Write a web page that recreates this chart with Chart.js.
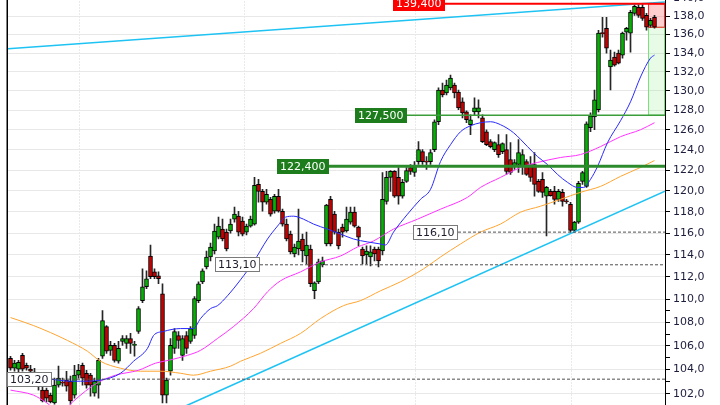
<!DOCTYPE html>
<html><head><meta charset="utf-8">
<script src="https://cdn.jsdelivr.net/npm/chart.js@4.4.1/dist/chart.umd.min.js"></script>
<style>
html,body{margin:0;padding:0;width:720px;height:405px;overflow:hidden;background:#fff;}
#wrap{position:absolute;left:0;top:0;width:720px;height:405px;overflow:hidden;background:#fff;}
#c{position:absolute;left:0;top:0;}
</style></head>
<body><div id="wrap"><canvas id="c" width="720" height="460"></canvas></div>
<script>
// ---- OHLC data (one candle per session) ----
const opens = [104.94,104.11,104.03,105.19,104.36,104.03,103.78,103.28,102.30,102.30,101.89,101.25,102.71,102.95,103.12,103.03,101.89,103.53,104.36,103.69,
103.53,102.05,102.71,105.11,107.64,105.61,106.03,104.69,106.37,106.20,106.62,106.03,107.22,109.90,111.13,113.90,112.46,112.11,110.51,101.89,
103.86,105.78,106.87,105.19,106.87,106.37,106.87,109.90,111.57,112.91,113.81,114.36,115.64,116.38,116.10,116.20,117.31,117.59,117.12,116.10,
116.66,116.85,120.62,119.95,118.91,119.19,118.06,119.48,118.06,116.85,115.92,114.09,114.54,115.46,113.90,114.54,110.77,111.57,113.09,115.00,
119.19,117.78,116.10,116.57,116.20,117.03,117.97,116.57,114.54,114.00,113.81,114.54,114.54,114.36,119.00,121.30,121.88,121.30,119.48,120.91,
122.27,121.78,122.85,123.83,122.85,122.85,124.03,126.83,130.10,129.79,130.31,130.62,129.89,128.87,127.84,126.53,127.84,127.84,127.23,125.82,
124.82,124.03,124.52,123.83,124.03,123.05,122.36,122.56,122.36,122.85,122.56,122.56,120.91,121.11,119.48,119.95,119.95,119.19,119.86,119.00,
118.72,116.25,117.03,120.91,120.43,126.22,127.33,128.05,136.15,136.69,132.51,133.57,133.99,133.78,136.26,136.15,138.33,138.99,138.99,138.11,
137.01,137.89];
const highs = [105.11,104.77,104.77,105.36,104.53,104.36,104.11,103.53,102.54,102.46,102.05,103.28,104.28,103.28,103.86,103.45,104.36,104.44,104.53,103.94,
103.69,103.28,104.94,109.03,107.73,106.37,106.20,106.37,106.87,106.87,107.05,106.37,109.37,112.73,112.55,114.91,112.73,112.46,111.40,103.28,
106.62,107.47,107.22,106.87,107.22,107.64,110.25,111.57,112.73,114.36,115.09,116.85,117.50,117.31,116.38,117.31,118.44,118.06,117.50,116.85,
117.59,121.30,121.11,120.14,120.14,119.38,119.67,120.14,118.25,117.31,116.20,115.00,118.25,115.92,116.10,114.91,111.57,113.63,113.81,118.72,
119.48,118.06,116.38,116.85,118.44,118.44,118.44,116.66,114.72,114.82,114.82,114.72,114.72,121.78,121.88,121.97,121.97,122.27,121.11,122.27,
122.56,122.85,124.82,124.03,123.34,124.03,127.03,130.31,130.83,131.14,131.67,130.83,130.10,129.27,127.94,127.54,129.27,129.07,127.54,126.02,
125.02,124.80,125.52,124.70,125.52,124.72,123.05,125.02,124.03,123.05,123.34,123.74,121.11,121.78,120.43,120.14,120.43,120.14,120.14,119.19,
118.91,117.10,120.91,121.88,126.83,127.74,130.10,136.47,137.89,137.89,134.31,134.10,134.31,136.26,136.80,138.66,139.40,139.40,139.35,138.33,
137.78,138.11];
const lows = [103.94,103.86,103.78,103.86,103.94,103.53,103.03,102.30,101.33,101.33,101.25,101.16,102.54,102.62,102.22,101.16,101.65,103.28,102.71,102.46,
101.81,101.81,101.65,104.94,105.36,105.19,104.61,104.53,106.03,105.78,105.36,105.11,107.05,109.72,110.95,111.84,111.84,111.40,101.25,101.25,
103.53,105.36,105.78,104.77,105.36,106.20,106.62,109.72,111.40,112.73,113.45,114.09,115.46,115.28,114.36,116.01,117.03,115.74,115.74,115.83,
116.57,116.75,118.91,118.06,118.72,117.59,117.87,117.97,116.66,115.28,114.09,113.81,114.00,113.36,113.18,111.13,110.07,111.40,112.91,114.82,
114.82,115.92,114.54,115.64,116.10,116.85,116.57,114.82,113.18,113.18,113.00,113.45,112.91,114.00,118.72,119.95,119.38,118.72,119.29,120.82,
121.59,121.40,122.56,122.56,122.07,122.56,123.83,126.53,129.38,129.58,130.10,129.27,128.05,127.23,126.73,125.52,127.54,127.23,124.72,124.42,
124.20,123.83,123.25,123.64,121.59,121.59,122.07,121.78,121.59,121.49,120.91,119.48,119.86,119.38,115.74,119.48,118.72,119.00,118.53,118.81,
116.10,116.10,116.90,120.62,120.33,125.82,126.02,127.84,135.72,133.99,130.10,132.61,132.83,133.46,135.39,134.10,138.11,137.89,137.56,136.47,
136.80,136.70];
const closes = [104.11,104.53,104.61,104.03,104.11,103.86,103.36,102.62,101.41,101.65,101.33,102.71,103.28,102.87,102.62,101.41,103.53,103.94,103.28,102.71,
102.71,103.03,104.77,108.16,105.53,106.03,104.77,105.78,106.62,106.62,106.20,106.12,109.20,111.13,111.84,112.02,112.02,111.84,101.89,103.12,
106.03,107.22,106.45,106.62,105.78,107.47,110.07,111.40,112.55,113.81,114.72,116.20,116.66,115.46,114.54,116.85,117.78,116.10,115.92,116.66,
117.31,120.53,119.95,118.91,119.67,117.78,119.48,118.06,116.85,115.46,114.27,114.72,115.28,114.36,114.91,111.40,111.48,113.36,113.45,118.63,
115.00,116.10,114.82,116.10,117.31,117.97,116.66,115.64,113.90,114.36,114.27,114.09,113.45,119.19,121.30,121.88,119.48,119.48,120.82,121.97,
121.88,122.36,124.03,122.85,122.80,123.74,126.83,130.10,129.58,130.62,131.35,129.79,128.25,127.74,127.03,127.03,128.25,128.25,124.82,124.52,
124.33,124.72,123.54,124.62,121.88,121.78,122.76,123.74,123.54,121.59,121.30,120.62,119.95,119.86,120.33,119.55,119.19,119.95,119.00,118.96,
116.25,117.03,120.72,121.78,126.63,127.43,129.07,136.15,136.10,134.53,133.25,132.72,132.93,136.15,136.69,138.44,139.10,138.11,137.78,136.80,
137.56,136.80];

// ---- moving averages (session index, price) ----
const maFastIdx = [0,5,10,15,17.5,22.5,27.5,30.75,34.25,35.75,38.25,42.5,45.75,47.5,50,51.75,54.25,57.5,60.75,64.25,66.75,68.75,70.75,73.25,75.75,79.25,82.5,85.75,89.25,92.5,93.75,95.75,99.25,102.5,105,107.5,110,112.5,115,117.5,120,122.5,125.75,129.25,131.75,134.25,136.75,139.25,141.75,143.25,145,146.75,149.25,152.5,155,157.5,160,161];
const maFastVal = [103.28,103.28,103.20,103.03,103.03,103.12,103.69,104.69,105.78,106.87,107.22,107.47,107.47,108.33,109.20,109.46,110.33,111.75,113.36,115.46,116.66,117.50,117.59,117.31,116.85,116.38,115.92,115.46,115.19,115.00,114.91,116.10,117.78,119.19,120.14,122.85,124.52,125.82,126.42,126.73,126.83,126.53,125.72,124.33,123.34,122.56,121.59,120.82,120.33,120.33,121.11,122.36,124.72,126.93,128.87,131.46,133.46,133.78];
const maMidIdx = [0,5.75,8.75,11.25,13.75,15.5,18.75,22,26.25,32,36.25,39.5,44.25,47.5,51.75,55.75,60.75,64.25,67.5,72.5,77.5,82.5,86.75,90.75,95.75,101.75,107.5,114.25,117.5,122.5,127.5,131.75,137.5,142.5,147.5,152.5,157.5,161];
const maMidVal = [102.30,101.89,101.33,100.84,100.84,101.33,102.22,102.95,103.53,103.94,104.53,104.77,105.19,105.61,106.62,107.64,109.20,110.68,111.66,112.46,113.36,113.90,114.72,115.28,116.38,117.31,118.25,119.38,120.33,121.30,122.27,122.76,123.25,123.54,124.33,125.32,126.02,126.73];
const maSlowIdx = [0,5.75,14.25,19.25,22.5,27.5,32.5,37.5,42.5,45.75,50,55,57.5,62.5,67.5,72.5,77.5,83.25,87.5,92.5,97.5,103.25,107.5,112.5,117.5,122.5,127.5,132.5,137.5,142.5,147.5,152.5,157.5,161];
const maSlowVal = [108.42,107.73,106.45,105.53,104.69,104.11,103.86,103.86,103.69,103.53,103.86,104.28,104.69,105.36,106.20,107.05,108.33,109.46,109.90,110.77,111.57,112.73,113.81,115.00,116.10,116.85,117.97,118.53,119.19,119.86,120.43,121.40,122.27,122.95];

// ---- trend lines (session index, price) ----
const trendUpIdx = [-0.625, 163.625];
const trendUpVal = [134.47, 139.60];
const trendLowIdx = [42.375, 163.625];
const trendLowVal = [100.80, 119.96];

// ---- horizontal levels with their tags ----
const levelValues = [139.4, 127.5, 122.4, 116.1, 113.1, 103.2];
const levelDecimals = [3, 3, 3, 2, 2, 2];
const levelKinds = ['red', 'green', 'greenBold', 'dash', 'dash', 'dash'];
const levelStartIdx = [95.625, 86.125, 66.625, 100.625, 51.125, -0.875];

// ---- target / stop zone at the right ----
const zoneStartIdx = 159.375;
const zoneStop = 139.4, zoneEntry = 136.8, zoneTarget = 127.5;

// ---- axes ----
const xMin = -0.625, xMax = 163.625;
const yMin = 100, yMax = 141;
const yTickValues = [100,102,104,106,108,110,112,114,116,118,120,122,124,126,128,130,132,134,136,138,140];
const yMinorTicks = [101,103,105,107,109];
const monthGridIdx = [17.125, 58.375, 101.125, 140.125];

const minorSet = new Set(yMinorTicks);
const allTicks = yTickValues.concat(yMinorTicks).sort((a, b) => a - b);
const idx = opens.map((_, i) => i);
const isUp = i => closes[i] >= opens[i];
const pts = (xs, ys) => xs.map((x, k) => ({x: x, y: ys[k]}));
const fmt = (v, d) => v.toFixed(d).replace('.', ',');
const FONT = "'DejaVu Sans', Verdana, sans-serif";

const levelStyle = {
  red: {color: '#ff0000', width: 2, dash: []},
  green: {color: '#3a9d3a', width: 1.5, dash: []},
  greenBold: {color: '#2b8a2b', width: 3, dash: []},
  dash: {color: '#505050', width: 1, dash: [3, 2]}
};

const datasets = [
  {type: 'bar', data: idx.map(i => ({x: i, y: [lows[i], highs[i]]})), backgroundColor: '#262626',
   barThickness: 1, grouped: false, order: 10},
  {type: 'bar', data: idx.map(i => ({x: i, y: [opens[i], closes[i]]})),
   backgroundColor: c => isUp(c.dataIndex) ? '#00b400' : '#c40000',
   borderColor: '#000', borderWidth: 1, borderSkipped: false, minBarLength: 1,
   barThickness: 4, grouped: false, order: 9},
  {type: 'line', data: pts(maSlowIdx, maSlowVal), borderColor: '#ffa531', borderWidth: 1, pointRadius: 0, cubicInterpolationMode: 'monotone', order: 6},
  {type: 'line', data: pts(maMidIdx, maMidVal), borderColor: '#ff33ff', borderWidth: 1, pointRadius: 0, cubicInterpolationMode: 'monotone', order: 5},
  {type: 'line', data: pts(maFastIdx, maFastVal), borderColor: '#2a2aff', borderWidth: 1, pointRadius: 0, cubicInterpolationMode: 'monotone', order: 4},
  {type: 'line', data: pts(trendUpIdx, trendUpVal), borderColor: '#1ec3f3', borderWidth: 1.5, pointRadius: 0, order: 3},
  {type: 'line', data: pts(trendLowIdx, trendLowVal), borderColor: '#1ec3f3', borderWidth: 1.5, pointRadius: 0, order: 3}
];
levelValues.forEach((v, k) => {
  const st = levelStyle[levelKinds[k]];
  datasets.push({type: 'line', data: [{x: levelStartIdx[k], y: v}, {x: xMax, y: v}],
    borderColor: st.color, borderWidth: st.width, borderDash: st.dash, pointRadius: 0, order: 2});
});

const overlay = {
  id: 'overlay',
  beforeDatasetsDraw(chart) {
    const {ctx, chartArea: a, scales: {x, y}} = chart;
    const l = x.getPixelForValue(zoneStartIdx), r = a.right;
    const yS = y.getPixelForValue(zoneStop), yE = y.getPixelForValue(zoneEntry), yT = y.getPixelForValue(zoneTarget);
    ctx.save();
    ctx.fillStyle = 'rgba(255,60,60,0.25)';
    ctx.fillRect(l, yS, r - l, yE - yS);
    ctx.fillStyle = 'rgba(120,235,120,0.18)';
    ctx.fillRect(l, yE, r - l, yT - yE);
    ctx.lineWidth = 1;
    ctx.strokeStyle = '#7de07d';
    ctx.strokeRect(Math.round(l) + 0.5, yE, r - Math.round(l) - 1, yT - yE);
    ctx.strokeStyle = '#ff2a2a';
    ctx.strokeRect(Math.round(l) + 0.5, yS, r - Math.round(l) - 1, yE - yS);
    ctx.restore();
  },
  afterDatasetsDraw(chart) {
    const {ctx, chartArea: a, scales: {x, y}} = chart;
    ctx.save();
    ctx.fillStyle = '#000';
    ctx.fillRect(a.left - 1.5, a.top, 1.5, a.bottom - a.top);
    ctx.font = '11px ' + FONT;
    ctx.textBaseline = 'middle';
    levelValues.forEach((v, k) => {
      const kind = levelKinds[k];
      const txt = fmt(v, levelDecimals[k]);
      const px = Math.round(x.getPixelForValue(levelStartIdx[k]));
      const py = y.getPixelForValue(v);
      const w = Math.ceil(ctx.measureText(txt).width) + 6, h = 15;
      const top = Math.round(py - h / 2);
      if (kind === 'dash') {
        ctx.fillStyle = '#fff'; ctx.fillRect(px, top, w, h);
        ctx.strokeStyle = '#7a7a7a'; ctx.lineWidth = 1; ctx.strokeRect(px + 0.5, top + 0.5, w - 1, h - 1);
        ctx.fillStyle = '#1e1e2e';
      } else {
        ctx.fillStyle = kind === 'red' ? '#ff0000' : '#1d7d1d';
        ctx.fillRect(px, top, w, h);
        ctx.fillStyle = '#fff';
      }
      ctx.textAlign = 'left';
      ctx.fillText(txt, px + 3, top + h / 2 + 0.5);
    });
    ctx.restore();
  }
};

const cv = document.getElementById('c');
const chart = new Chart(cv, {
  type: 'bar',
  data: {datasets: datasets},
  options: {
    responsive: false, maintainAspectRatio: false, animation: false, devicePixelRatio: 1, events: [],
    layout: {padding: {left: 8, right: 0, top: 0, bottom: 0}},
    plugins: {legend: {display: false}, tooltip: {enabled: false}},
    scales: {
      x: {
        type: 'linear', min: xMin, max: xMax, offset: false, display: true,
        ticks: {display: false},
        grid: {color: '#d4d4d4', drawTicks: false, offset: false},
        border: {display: false, dash: [1, 2]},
        afterBuildTicks: s => { s.ticks = monthGridIdx.map(v => ({value: v})); },
        afterFit: s => { s.height = 0; s.paddingLeft = 0; s.paddingRight = 0; }
      },
      y: {
        type: 'logarithmic', position: 'right', min: yMin, max: yMax,
        afterBuildTicks: s => { s.ticks = allTicks.map(v => ({value: v})); },
        afterFit: s => { s.width = 55; s.paddingTop = 0; s.paddingBottom = 0; },
        ticks: {
          autoSkip: false, padding: 3, color: '#1c1c3c',
          font: {family: FONT, size: 11},
          callback: v => minorSet.has(v) ? '' : fmt(v, 1)
        },
        grid: {
          color: c => (c.tick && minorSet.has(c.tick.value)) ? 'rgba(0,0,0,0)' : '#e8e8e8',
          tickColor: '#000', tickLength: 5, lineWidth: 1
        },
        border: {display: true, color: '#000', width: 1}
      }
    }
  },
  plugins: [overlay]
});

// place the canvas so the price scale lines up with the reference frame
const calib = {hiValue: 139.4, hiPage: 3.3, loValue: 103.2, loPage: 381};
(function calibrate() {
  const ys = chart.scales.y;
  const pHi = ys.getPixelForValue(calib.hiValue), pLo = ys.getPixelForValue(calib.loValue);
  const h = chart.chartArea.bottom - chart.chartArea.top;
  const need = h * (calib.loPage - calib.hiPage) / (pLo - pHi);
  chart.resize(720, Math.round(cv.height + need - h));
  const off = calib.hiPage - chart.scales.y.getPixelForValue(calib.hiValue);
  cv.style.top = off + 'px';
})();
</script>
</body></html>
